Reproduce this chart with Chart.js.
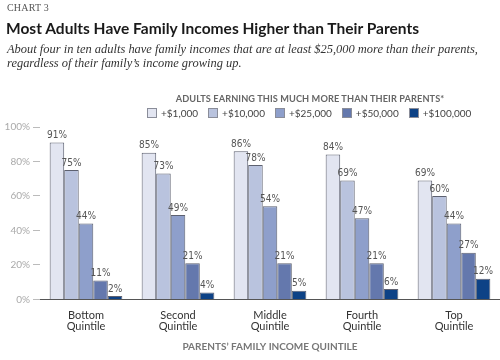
<!DOCTYPE html>
<html>
<head>
<meta charset="utf-8">
<script src="https://cdn.jsdelivr.net/npm/chart.js@4.4.0/dist/chart.umd.min.js"></script>
<style>
  html, body { margin: 0; padding: 0; background: #fff; }
  #wrap { position: relative; width: 500px; height: 360px; overflow: hidden; }
  #chart_canvas { position: absolute; left: 0; top: 0; }
  .kicker { position: absolute; left: 7px; top: 2px; font: 10px "Liberation Serif", serif; color: #555; letter-spacing: 0.2px; }
  .title { position: absolute; left: 6px; top: 20px; font: bold 14.5px Lato, sans-serif; color: #1a1a1a; white-space: nowrap; transform-origin: left top; }
  .subtitle { position: absolute; left: 7px; top: 43px; font: italic 12px "Liberation Serif", serif; line-height: 13.5px; color: #333; white-space: nowrap; transform-origin: left top; }
  #legend_title { position: absolute; left: 150px; width: 320px; top: 93px; text-align: center; font: bold 9.2px Lato, sans-serif; color: #666; letter-spacing: 0.1px; }
  #legend { position: absolute; left: 147px; top: 107px; display: flex; font: 10px Lato, sans-serif; color: #444; }
  #legend .item { display: flex; align-items: center; margin-right: 10px; }
  #legend .box { width: 8px; height: 8px; border: 1px solid #8a8d99; margin-right: 4px; }
</style>
</head>
<body>
<div id="wrap">
  <canvas id="chart_canvas" width="500" height="360"></canvas>
  <div class="kicker">CHART 3</div>
  <div class="title" id="title">Most Adults Have Family Incomes Higher than Their Parents</div>
  <div class="subtitle" id="subtitle">About four in ten adults have family incomes that are at least $25,000 more than their parents,<br>regardless of their family’s income growing up.</div>
  <div id="legend_title">ADULTS EARNING THIS MUCH MORE THAN THEIR PARENTS*</div>
  <div id="legend"></div>
</div>
<script>
const quintiles = [['Bottom', 'Quintile'], ['Second', 'Quintile'], ['Middle', 'Quintile'], ['Fourth', 'Quintile'], ['Top', 'Quintile']];
const series_names = ['+$1,000', '+$10,000', '+$25,000', '+$50,000', '+$100,000'];
const plus_1000 = [91, 85, 86, 84, 69];
const plus_10000 = [75, 73, 78, 69, 60];
const plus_25000 = [44, 49, 54, 47, 44];
const plus_50000 = [11, 21, 21, 21, 27];
const plus_100000 = [2, 4, 5, 6, 12];
const y_ticks = [0, 20, 40, 60, 80, 100];

const series_values = [plus_1000, plus_10000, plus_25000, plus_50000, plus_100000];
const bar_colors = ['#e2e5f1', '#b9c3de', '#8e9fcb', '#6478ad', '#0d4286'];

// squeeze/stretch a heading so it spans the same width as in the print version
function fit_width(id, target) {
    let el = document.getElementById(id);
    let w = el.getBoundingClientRect().width;
    el.style.transform = `scaleX(${target / w})`;
}

// little html legend, built from the same arrays
function build_legend() {
    let legend = document.getElementById('legend');
    series_names.forEach((name, i) => {
        legend.innerHTML += `<div class="item"><span class="box" style="background:${bar_colors[i]}"></span>${name}</div>`;
    });
}

// percentage labels on top of each bar
const bar_labels = {
    id: 'bar_labels',
    afterDatasetsDraw(chart) {
        const ctx = chart.ctx;
        ctx.save();
        ctx.font = '10px "Liberation Sans Narrow", "DejaVu Sans Condensed", sans-serif';
        ctx.fillStyle = '#555';
        ctx.textAlign = 'center';
        ctx.textBaseline = 'bottom';
        chart.data.datasets.forEach((ds, i) => {
            chart.getDatasetMeta(i).data.forEach((bar, j) => {
                ctx.fillText(ds.data[j] + '%', bar.x, bar.y - 2);
            });
        });
        ctx.restore();
    }
};

function add_chart() {
    const ctx = document.getElementById('chart_canvas');
    new Chart(ctx, {
        type: 'bar',
        data: {
            labels: quintiles,
            datasets: series_names.map((name, i) => ({
                label: name,
                data: series_values[i],
                backgroundColor: bar_colors[i],
                borderColor: '#5d6170',
                borderWidth: 1,
                categoryPercentage: 0.79,
                barPercentage: 1
            }))
        },
        options: {
            responsive: false,
            animation: false,
            layout: { padding: { top: 127, right: 0, bottom: 8, left: 0 } },
            plugins: {
                legend: { display: false },
                tooltip: { enabled: false }
            },
            scales: {
                x: {
                    grid: { display: false, drawTicks: false },
                    border: { display: true, color: '#555', width: 1 },
                    ticks: { color: '#333', font: { family: 'Lato', size: 11, lineHeight: 1.05 }, padding: 10 },
                    title: {
                        display: true,
                        text: 'PARENTS’ FAMILY INCOME QUINTILE',
                        color: '#777',
                        font: { family: 'Lato', size: 10, weight: 'bold', lineHeight: 0.95 },
                        padding: { top: 0, bottom: 0 }
                    }
                },
                y: {
                    min: 0,
                    max: 100,
                    afterBuildTicks: axis => { axis.ticks = y_ticks.map(v => ({ value: v })); },
                    afterFit: axis => { axis.width = 40; },
                    border: { display: false },
                    grid: { drawOnChartArea: false, drawTicks: true, tickLength: 7, tickColor: '#bbb' },
                    ticks: {
                        color: '#aaa',
                        font: { family: 'Lato', size: 10 },
                        padding: 3,
                        callback: v => v + '%'
                    }
                }
            }
        },
        plugins: [bar_labels]
    });
}

fit_width('title', 413);
fit_width('subtitle', 471);
build_legend();
add_chart();
</script>
</body>
</html>
